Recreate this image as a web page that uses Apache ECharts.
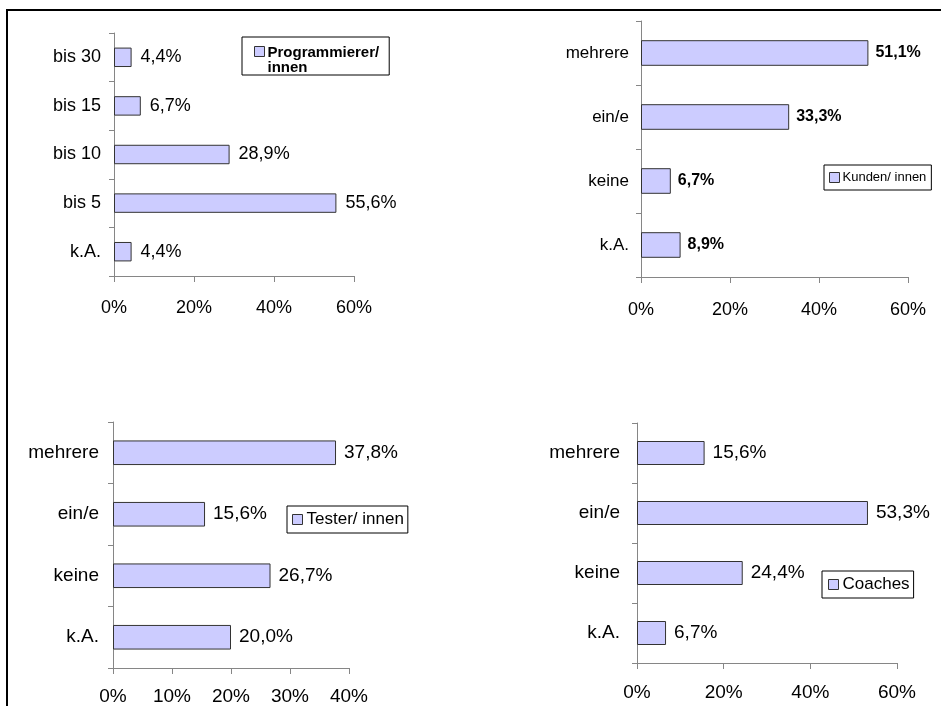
<!DOCTYPE html>
<html>
<head>
<meta charset="utf-8">
<script src="https://cdn.jsdelivr.net/npm/echarts@6/dist/echarts.min.js"></script>
<style>
html,body{margin:0;padding:0;background:#fff;}
#c{width:941px;height:706px;}
</style>
</head>
<body>
<div id="c"></div>
<script>
// ---- data ----
const progCats = ['bis 30', 'bis 15', 'bis 10', 'bis 5', 'k.A.'];
const progVals = [4.4, 6.7, 28.9, 55.6, 4.4];
const kundenCats = ['mehrere', 'ein/e', 'keine', 'k.A.'];
const kundenVals = [51.1, 33.3, 6.7, 8.9];
const testerCats = ['mehrere', 'ein/e', 'keine', 'k.A.'];
const testerVals = [37.8, 15.6, 26.7, 20.0];
const coachCats = ['mehrere', 'ein/e', 'keine', 'k.A.'];
const coachVals = [15.6, 53.3, 24.4, 6.7];
const seriesNames = ['Programmierer/ innen', 'Kunden/ innen', 'Tester/ innen', 'Coaches'];
const xMax = [60, 60, 40, 60];
const xStep = [20, 20, 10, 20];

const FONT = "'Liberation Sans', Arial, sans-serif";
const BAR_FILL = '#ccccff';
const BAR_BORDER = '#333333';
const AXIS = '#868686';

const chart = echarts.init(document.getElementById('c'), null, {renderer: 'canvas'});

const grids = [
  {left: 114, top: 33, width: 240, height: 243},
  {left: 641, top: 21, width: 267, height: 256},
  {left: 113, top: 422, width: 236, height: 247},
  {left: 637, top: 423, width: 260, height: 240}
];
const cats = [progCats, kundenCats, testerCats, coachCats];
const vals = [progVals, kundenVals, testerVals, coachVals];
const catFont = [
  {fontFamily: FONT, fontSize: 18},
  {fontFamily: FONT, fontSize: 17},
  {fontFamily: FONT, fontSize: 19},
  {fontFamily: FONT, fontSize: 19}
];
const valFont = [
  {fontFamily: FONT, fontSize: 18},
  {fontFamily: FONT, fontSize: 16, fontWeight: 'bold'},
  {fontFamily: FONT, fontSize: 19},
  {fontFamily: FONT, fontSize: 19}
];
const tickFont = [
  {fontFamily: FONT, fontSize: 18},
  {fontFamily: FONT, fontSize: 18},
  {fontFamily: FONT, fontSize: 19},
  {fontFamily: FONT, fontSize: 19}
];
const xMargins = [23, 24, 19, 20];
const yMargins = [13, 12, 14, 17];
const labelDist = [9, 7, 8, 8];

function fmt(v) { return v.toFixed(1).replace('.', ',') + '%'; }

const xAxis = grids.map((g, i) => ({
  type: 'value', gridIndex: i, min: 0, max: xMax[i], interval: xStep[i],
  axisLine: {show: true, lineStyle: {color: AXIS, width: 1}},
  axisTick: {show: true, inside: false, length: 6, lineStyle: {color: AXIS}},
  splitLine: {show: false},
  axisLabel: Object.assign({color: '#000', margin: xMargins[i], formatter: '{value}%'}, tickFont[i])
}));
const yAxis = grids.map((g, i) => ({
  type: 'category', gridIndex: i, data: cats[i], inverse: true,
  axisLine: {show: true, lineStyle: {color: AXIS, width: 1}},
  axisTick: {show: true, inside: false, length: 5, lineStyle: {color: AXIS}},
  splitLine: {show: false},
  axisLabel: Object.assign({color: '#000', margin: yMargins[i]}, catFont[i])
}));
const series = grids.map((g, i) => ({
  type: 'bar', name: seriesNames[i], xAxisIndex: i, yAxisIndex: i,
  data: vals[i], barWidth: '40%',
  itemStyle: {color: BAR_FILL, borderColor: BAR_BORDER, borderWidth: 1},
  label: Object.assign({show: true, position: 'right', distance: labelDist[i], color: '#000',
    formatter: p => fmt(p.value)}, valFont[i]),
  emphasis: {disabled: true},
  animation: false
}));

const legBase = {
  orient: 'vertical', icon: 'rect', itemWidth: 10, itemHeight: 10, itemGap: 0,
  borderColor: '#000', borderWidth: 1, backgroundColor: '#fff', selectedMode: false,
  itemStyle: {color: BAR_FILL, borderColor: BAR_BORDER, borderWidth: 1}
};
const legends = [
  Object.assign({}, legBase, {
    data: [seriesNames[0]], left: 242, top: 37, padding: [8, 10, 0, 12],
    icon: 'path://M0,0L10,0L10,10L0,10Z M0,27L0,27', itemHeight: 27,
    formatter: 'Programmierer/\ninnen',
    textStyle: {fontFamily: FONT, fontSize: 15, fontWeight: 'bold', color: '#000', lineHeight: 15, padding: [0, 0, 0, -2]}
  }),
  Object.assign({}, legBase, {
    data: [seriesNames[1]], left: 824, top: 165, padding: [6, 5, 6, 5],
    textStyle: {fontFamily: FONT, fontSize: 13, color: '#000', padding: [0, 0, 0, -2]}
  }),
  Object.assign({}, legBase, {
    data: [seriesNames[2]], left: 287, top: 506, padding: [5, 4, 5, 5],
    textStyle: {fontFamily: FONT, fontSize: 17, color: '#000', padding: [0, 0, 0, -1]}
  }),
  Object.assign({}, legBase, {
    data: [seriesNames[3]], left: 822, top: 571, padding: [5, 4, 5, 6],
    textStyle: {fontFamily: FONT, fontSize: 17, color: '#000', padding: [0, 0, 0, -1]}
  })
];

chart.setOption({
  animation: false,
  backgroundColor: '#fff',
  grid: grids.map(g => Object.assign({containLabel: false}, g)),
  xAxis: xAxis,
  yAxis: yAxis,
  series: series,
  legend: legends,
  graphic: [
    {type: 'line', shape: {x1: 6, y1: 10, x2: 941, y2: 10}, style: {stroke: '#000', lineWidth: 2}, silent: true},
    {type: 'line', shape: {x1: 7, y1: 10, x2: 7, y2: 706}, style: {stroke: '#000', lineWidth: 2}, silent: true}
  ]
});
</script>
</body>
</html>
